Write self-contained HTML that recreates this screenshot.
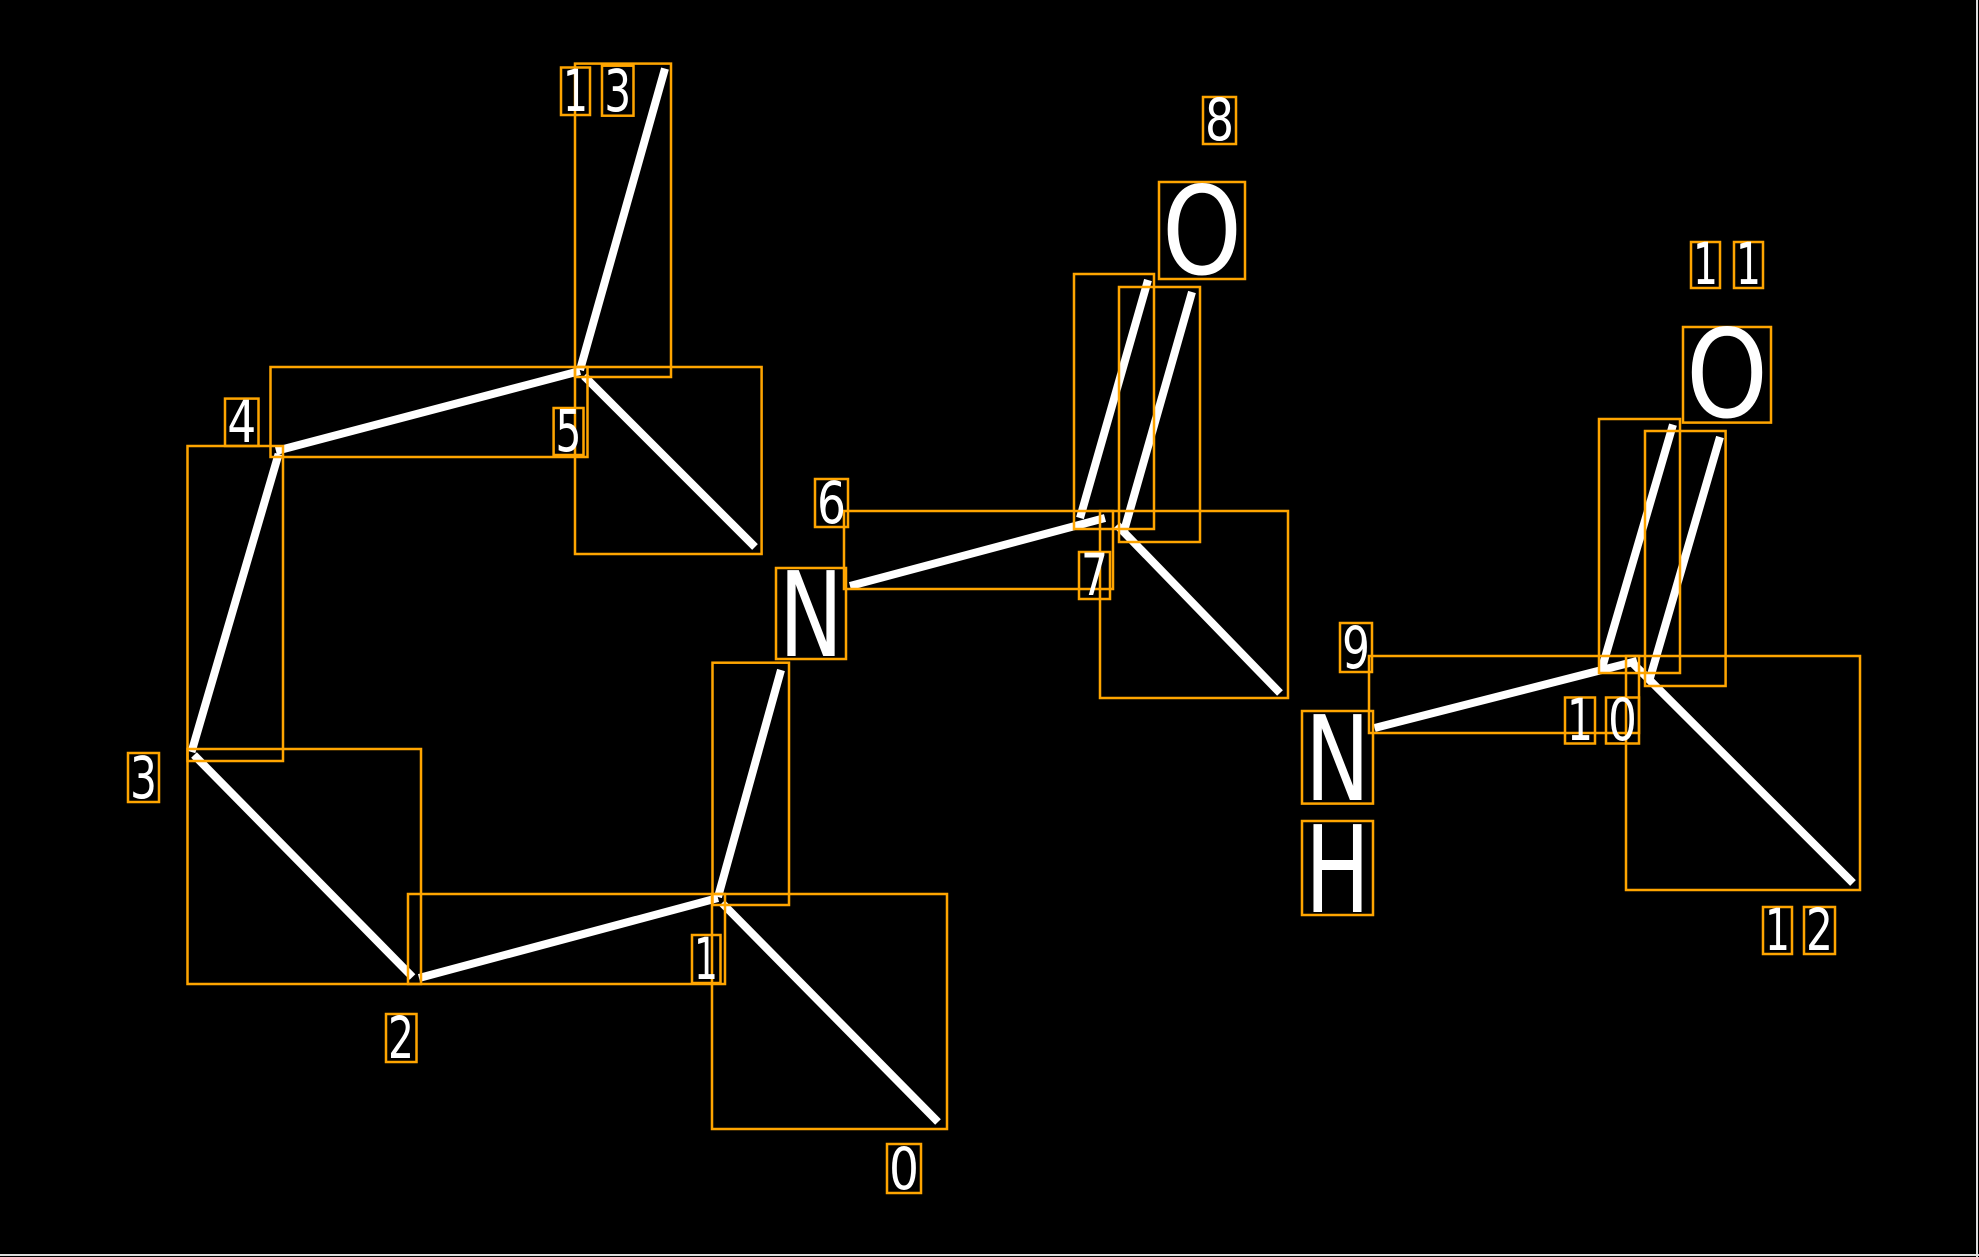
<!DOCTYPE html>
<html><head><meta charset="utf-8"><style>
html,body{margin:0;padding:0;background:#000;}
svg{display:block;}
text{font-family:"DejaVu Sans","Liberation Sans",sans-serif;fill:#fff;}
</style></head><body>
<svg width="1979" height="1257" viewBox="0 0 1979 1257" xmlns="http://www.w3.org/2000/svg">
<rect x="0" y="0" width="1979" height="1257" fill="#000"/>
<line x1="1977" y1="0" x2="1977" y2="1257" stroke="#ddd" stroke-width="2"/>
<line x1="0" y1="1255" x2="1979" y2="1255" stroke="#ddd" stroke-width="2"/>
<g stroke="#fff" stroke-width="8" stroke-linecap="butt">
<line x1="722" y1="903" x2="938" y2="1122"/>
<line x1="419" y1="978" x2="718" y2="898"/>
<line x1="194" y1="755" x2="412.5" y2="977"/>
<line x1="278.6" y1="454" x2="191.5" y2="752"/>
<line x1="276" y1="451" x2="580" y2="371"/>
<line x1="580" y1="370" x2="665" y2="68.6"/>
<line x1="584" y1="376" x2="755" y2="547"/>
<line x1="718" y1="897" x2="781" y2="670"/>
<line x1="850" y1="586" x2="1105" y2="518"/>
<line x1="1080" y1="518" x2="1148" y2="280"/>
<line x1="1124" y1="531" x2="1192" y2="292"/>
<line x1="1117" y1="525" x2="1280" y2="693"/>
<line x1="1374.6" y1="728" x2="1637" y2="661"/>
<line x1="1602" y1="668" x2="1673" y2="424.6"/>
<line x1="1650" y1="678" x2="1720" y2="437"/>
<line x1="1633" y1="663.5" x2="1853" y2="883"/>
</g>
<g fill="none" stroke="#FFA500" stroke-width="2.5">
<rect x="712" y="894" width="235" height="235"/>
<rect x="408" y="894" width="317" height="90"/>
<rect x="187.5" y="749" width="233.5" height="235"/>
<rect x="187.5" y="446" width="95.5" height="315"/>
<rect x="270.5" y="367" width="317" height="90"/>
<rect x="575" y="367" width="186.6" height="187"/>
<rect x="575" y="63.6" width="96" height="313.4"/>
<rect x="712.5" y="662.7" width="76.5" height="242.3"/>
<rect x="844" y="511" width="269" height="78"/>
<rect x="1074" y="274" width="80" height="255"/>
<rect x="1119" y="287" width="81" height="255"/>
<rect x="1100" y="511" width="188" height="187"/>
<rect x="1369" y="656" width="270" height="77"/>
<rect x="1599" y="419" width="81" height="254"/>
<rect x="1645" y="431" width="80.6" height="255"/>
<rect x="1626" y="656" width="234" height="234"/>
<rect x="887" y="1144" width="34" height="49"/>
<rect x="692" y="935" width="28.5" height="48"/>
<rect x="386" y="1014" width="30.5" height="48"/>
<rect x="128" y="753" width="31" height="49"/>
<rect x="225" y="398.6" width="33.5" height="47.4"/>
<rect x="553.6" y="408" width="29.9" height="47"/>
<rect x="815" y="479" width="33" height="48"/>
<rect x="1079" y="552" width="31" height="47"/>
<rect x="1203" y="97" width="33" height="47"/>
<rect x="1340" y="623" width="32" height="49"/>
<rect x="1565" y="697.5" width="30" height="46"/>
<rect x="1606" y="697.5" width="33" height="46"/>
<rect x="1691" y="242" width="29" height="46"/>
<rect x="1734" y="242" width="29" height="46"/>
<rect x="1763" y="907" width="29" height="47"/>
<rect x="1804" y="907" width="31" height="47"/>
<rect x="561" y="67.5" width="29" height="47.5"/>
<rect x="602" y="65.7" width="31.5" height="50"/>
<rect x="776" y="568" width="70" height="91"/>
<rect x="1159" y="182" width="86" height="97"/>
<rect x="1683" y="327" width="88" height="95.6"/>
<rect x="1302" y="711" width="71" height="92.6"/>
<rect x="1302" y="821" width="71" height="94"/>
</g>
<g font-size="58" text-anchor="middle">
<text x="904" y="1189" textLength="30" lengthAdjust="spacingAndGlyphs">0</text>
<text x="706" y="979" textLength="24" lengthAdjust="spacingAndGlyphs">1</text>
<text x="401" y="1058" textLength="26" lengthAdjust="spacingAndGlyphs">2</text>
<text x="143.5" y="798" textLength="27" lengthAdjust="spacingAndGlyphs">3</text>
<text x="241.7" y="442" textLength="29" lengthAdjust="spacingAndGlyphs">4</text>
<text x="568.5" y="451" textLength="26" lengthAdjust="spacingAndGlyphs">5</text>
<text x="831.5" y="523" textLength="29" lengthAdjust="spacingAndGlyphs">6</text>
<text x="1094.5" y="595" textLength="27" lengthAdjust="spacingAndGlyphs">7</text>
<text x="1219.5" y="140" textLength="29" lengthAdjust="spacingAndGlyphs">8</text>
<text x="1356" y="668" textLength="28" lengthAdjust="spacingAndGlyphs">9</text>
<text x="1580" y="740" textLength="26" lengthAdjust="spacingAndGlyphs">1</text>
<text x="1622.5" y="740" textLength="29" lengthAdjust="spacingAndGlyphs">0</text>
<text x="1705.5" y="284" textLength="25" lengthAdjust="spacingAndGlyphs">1</text>
<text x="1748.5" y="284" textLength="25" lengthAdjust="spacingAndGlyphs">1</text>
<text x="1777.5" y="950" textLength="25" lengthAdjust="spacingAndGlyphs">1</text>
<text x="1819.5" y="950" textLength="27" lengthAdjust="spacingAndGlyphs">2</text>
<text x="575.5" y="111" textLength="25" lengthAdjust="spacingAndGlyphs">1</text>
<text x="617.7" y="111" textLength="27" lengthAdjust="spacingAndGlyphs">3</text>
</g>
<g text-anchor="middle">
<text x="811" y="656" font-size="118" textLength="64" lengthAdjust="spacingAndGlyphs">N</text>
<text x="1202" y="274" font-size="122" textLength="80" lengthAdjust="spacingAndGlyphs">O</text>
<text x="1727" y="417" font-size="122" textLength="82" lengthAdjust="spacingAndGlyphs">O</text>
<text x="1337.5" y="800" font-size="118" textLength="65" lengthAdjust="spacingAndGlyphs">N</text>
<text x="1337.5" y="912" font-size="120" textLength="65" lengthAdjust="spacingAndGlyphs">H</text>
</g>
</svg>
</body></html>
